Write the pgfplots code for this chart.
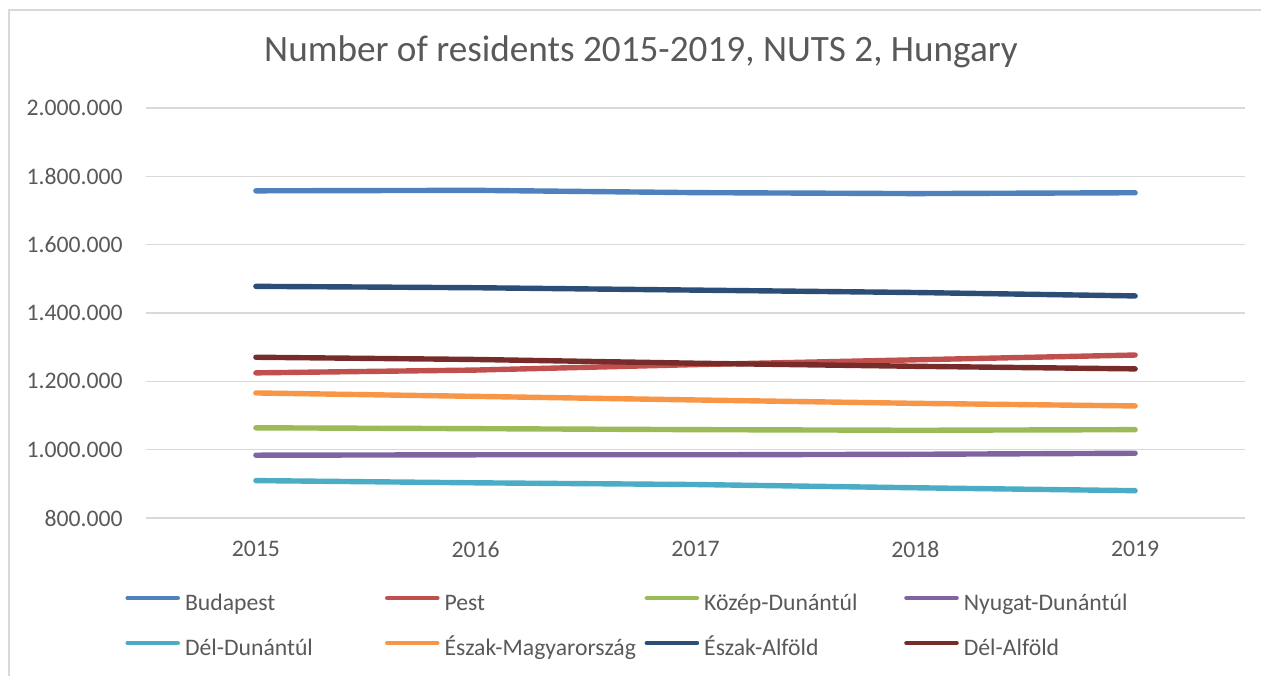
\documentclass[border=0pt]{standalone}
\usepackage{pgfplots}
\pgfplotsset{compat=1.18}
\usepackage{fontspec}
\setmainfont{Carlito}
\definecolor{txt}{HTML}{595959}
\definecolor{gridc}{HTML}{D9D9D9}
\definecolor{cBud}{HTML}{4F81BD}
\definecolor{cPest}{HTML}{C0504D}
\definecolor{cKD}{HTML}{9BBB59}
\definecolor{cND}{HTML}{8064A2}
\definecolor{cDD}{HTML}{4BACC6}
\definecolor{cEM}{HTML}{F79646}
\definecolor{cEA}{HTML}{2C4D75}
\definecolor{cDA}{HTML}{772C2A}
\begin{document}
\begin{tikzpicture}
\useasboundingbox (0pt,0pt) rectangle (630.5pt,338pt);
\draw[gridc, line width=0.7pt] (4.5pt,0pt) -- (4.5pt,333pt) -- (630.5pt,333pt);
\node[text=txt, font=\fontsize{18.6}{22}\selectfont] at (320.5pt,312pt) {Number of residents 2015-2019, NUTS 2, Hungary};
\begin{axis}[
  at={(73pt,79pt)}, anchor=south west,
  scale only axis, width=549.5pt, height=205pt,
  xmin=-0.5, xmax=4.5, ymin=800000, ymax=2000000,
  xtick={0,1,2,3,4}, xticklabels={2015,2016,2017,2018,2019},
  ytick={800000,1000000,1200000,1400000,1600000,1800000,2000000},
  scaled y ticks=false,
  /pgf/number format/.cd, fixed, 1000 sep={.}, assume math mode=true, /pgfplots/.cd,
  axis line style={draw=none},
  major tick length=0pt,
  tick style={draw=none},
  ymajorgrids, xmajorgrids=false,
  major grid style={gridc, line width=0.75pt},
  ticklabel style={text=txt, font=\fontsize{11.85}{14}\selectfont, inner sep=0pt},
  yticklabel style={xshift=-11.5pt},
  xticklabel style={yshift=-11.3pt},
  every axis plot/.append style={line width=2.7pt, line cap=round, line join=round},
  legend image code/.code={\draw[#1, line width=2.3pt] (1.25pt,3pt) -- (26.25pt,3pt);},
  legend columns=4,
  legend cell align=left,
  legend style={draw=none, fill=none, inner sep=0pt, at={(-0.0191,-0.182)}, anchor=north west,
    font=\fontsize{11.85}{14}\selectfont, text=txt,
    row sep=11.5pt,
    nodes={text width=100pt, inner sep=0pt, text height=8.5pt, text depth=2.5pt, align=left},
    /tikz/every odd column/.style={column sep=2.5pt},
    /tikz/every even column/.style={column sep=0pt}},
]
\addplot[cBud] coordinates {(0,1757600) (1,1759000) (2,1752300) (3,1749500) (4,1752000)};
\addlegendentry{Budapest}
\addplot[cPest] coordinates {(0,1224800) (1,1233000) (2,1249000) (3,1263000) (4,1277000)};
\addlegendentry{Pest}
\addplot[cKD] coordinates {(0,1064000) (1,1061500) (2,1058600) (3,1056800) (4,1058600)};
\addlegendentry{Közép-Dunántúl}
\addplot[cND] coordinates {(0,983800) (1,985000) (2,985000) (3,986500) (4,989500)};
\addlegendentry{Nyugat-Dunántúl}
\addplot[cDD] coordinates {(0,909500) (1,903000) (2,898000) (3,888500) (4,880000)};
\addlegendentry{Dél-Dunántúl}
\addplot[cEM] coordinates {(0,1166000) (1,1156000) (2,1145500) (3,1135600) (4,1128000)};
\addlegendentry{Észak-Magyarország}
\addplot[cEA] coordinates {(0,1478000) (1,1474000) (2,1467000) (3,1460000) (4,1450000)};
\addlegendentry{Észak-Alföld}
\addplot[cDA] coordinates {(0,1270500) (1,1264000) (2,1253000) (3,1244000) (4,1236500)};
\addlegendentry{Dél-Alföld}
\end{axis}
\end{tikzpicture}
\end{document}
